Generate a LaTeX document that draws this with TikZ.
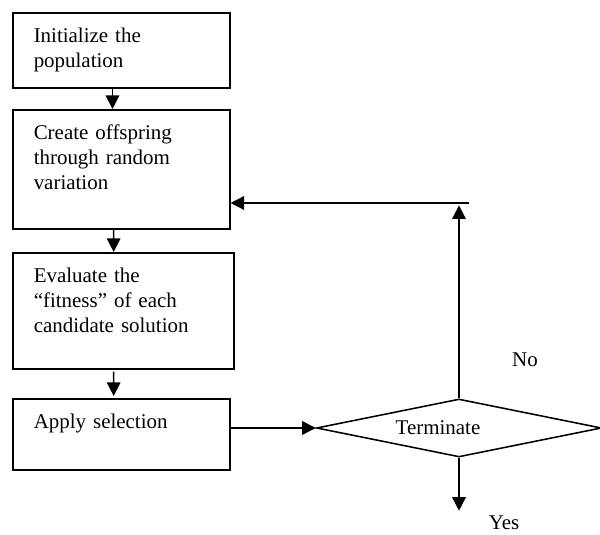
\documentclass[tikz,border=0pt]{standalone}
\usepackage{fontspec}
\setmainfont{Liberation Serif}
\usetikzlibrary{
  arrows.meta,
  positioning,
  shapes.geometric
}

\begin{document}
\begin{tikzpicture}[
  every node/.style={font=\fontsize{14.9}{17.8}\selectfont},
  stepbox/.style={
    rectangle, draw, line width=1.1pt, anchor=north west, align=left,
    inner xsep=0.525cm, inner ysep=0.35cm, text height=0.4cm
  },
  decision/.style={
    diamond, draw, line width=1.1pt, aspect=4.9,
    minimum width=7.125cm, minimum height=1.45cm, inner sep=0pt
  },
  arr/.style={-{Triangle[length=0.34cm, width=0.34cm]}, line width=1.1pt}
]
\useasboundingbox (0,0) rectangle (15,13.375);

% Steps
\node[stepbox, text width=4.375cm, text depth=0.775cm] (init) at (0.3,13.075)
  {Initialize the\\population};
\node[stepbox, text width=4.375cm, text depth=1.875cm] (create) at (0.3,10.65)
  {Create offspring\\through random\\variation};
\node[stepbox, text width=4.475cm, text depth=1.8cm] (eval) at (0.3,7.075)
  {Evaluate the\\“fitness” of each\\candidate solution};
\node[stepbox, text width=4.375cm, text depth=0.675cm] (apply) at (0.3,3.425)
  {Apply selection};

% Decision
\node[decision] (term) at (11.475,2.675)
  {\hspace*{-0.525cm}Terminate\hspace*{0.525cm}};

% Labels
\node[anchor=base] (no) at (13.125,4.2) {No};
\node[anchor=base] (yes) at (12.6,0.14) {Yes};

% Arrows
\draw[arr] ([xshift=-0.22cm]init.south) -- ([xshift=-0.22cm]create.north);
\draw[arr] ([xshift=-0.19cm]create.south) -- ([xshift=-0.24cm]eval.north);
\draw[arr, shorten <=0.05cm, shorten >=0.05cm]
  ([xshift=-0.24cm]eval.south) -- ([xshift=-0.19cm]apply.north);
\draw[arr] (apply.east |- term.west) -- (term.west);

% Loop back
\coordinate (loop) at (11.73,8.3);
\draw[arr, shorten >=0.06cm] (term.north) -- (term.north |- loop);
\draw[arr] (loop) -- (loop -| create.east);
\draw[arr] (term.south) -- (term.south |- yes.north);

\end{tikzpicture}
\end{document}
